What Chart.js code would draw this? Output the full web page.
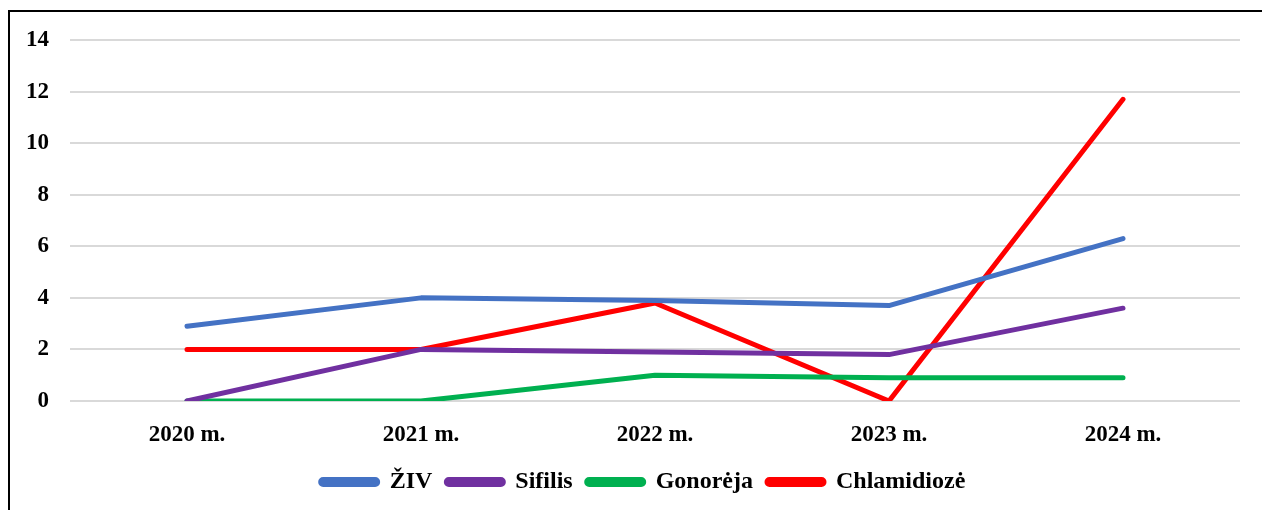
<!DOCTYPE html>
<html>
<head>
<meta charset="utf-8">
<script src="https://cdn.jsdelivr.net/npm/chart.js@4/dist/chart.umd.min.js"></script>
<style>
  body { margin: 0; background: #fff; overflow: hidden; }
  #wrap { position: absolute; left: 0; top: 0; width: 1262px; height: 510px; }
  #frame { position: absolute; left: 8px; top: 10px; width: 1300px; height: 600px;
           border: 2px solid #000; pointer-events: none; }
</style>
</head>
<body>
<div id="wrap"><canvas id="chart"></canvas></div>
<div id="frame"></div>
<script>
// duomenys
const years = ["2020 m.", "2021 m.", "2022 m.", "2023 m.", "2024 m."];
const ziv = [2.9, 4.0, 3.9, 3.7, 6.3];
const sifilis = [0, 2.0, 1.9, 1.8, 3.6];
const gonoreja = [0, 0, 1.0, 0.9, 0.9];
const chlamidioze = [2, 2, 3.8, 0, 11.7];

const serif = '"Liberation Serif", "Times New Roman", serif';

function serie(label, data, color) {
    return {
        label: label,
        data: data,
        borderColor: color,
        backgroundColor: color,
        borderWidth: 5,
        borderCapStyle: 'round',
        borderJoinStyle: 'round',
        borderRadius: 3,
        pointRadius: 0,
        tension: 0
    };
}

// legend sits a bit right of the chart centre in the original
const legendShift = {
    id: 'legendShift',
    afterLayout: function(chart) {
        chart.legend.left += 23;
        chart.legend.right += 23;
    }
};

var ctx = document.getElementById("chart");

const chart = new Chart(ctx, {
    type: 'line',
    data: {
        labels: years,
        datasets: [
            serie("ŽIV", ziv, "#4472C4"),
            serie("Sifilis", sifilis, "#7030A0"),
            serie("Gonorėja", gonoreja, "#00B050"),
            serie("Chlamidiozė", chlamidioze, "#FF0000")
        ]
    },
    plugins: [legendShift],
    options: {
        responsive: true,
        maintainAspectRatio: false,
        animation: false,
        layout: {
            padding: { left: 0, right: 22, top: 40, bottom: 6 }
        },
        plugins: {
            legend: {
                display: true,
                position: 'bottom',
                labels: {
                    color: '#000',
                    boxWidth: 57,
                    boxHeight: 5,
                    useBorderRadius: true,
                    borderRadius: 2.5,
                    padding: 14,
                    font: { family: serif, size: 24, weight: 'bold' }
                }
            },
            tooltip: { enabled: false }
        },
        scales: {
            x: {
                offset: true,
                grid: { display: false },
                border: { display: false },
                ticks: {
                    color: '#000',
                    padding: 12,
                    maxRotation: 0,
                    font: { family: serif, size: 23, weight: 'bold' }
                },
                afterFit: function(s) { s.height = 55; }
            },
            y: {
                min: 0,
                max: 14,
                ticks: {
                    stepSize: 2,
                    color: '#000',
                    padding: 21,
                    font: { family: serif, size: 23, weight: 'bold' }
                },
                grid: { color: '#d9d9d9', lineWidth: 2, drawTicks: false },
                border: { display: false },
                afterFit: function(s) { s.width = 70; }
            }
        }
    }
});
</script>
</body>
</html>
